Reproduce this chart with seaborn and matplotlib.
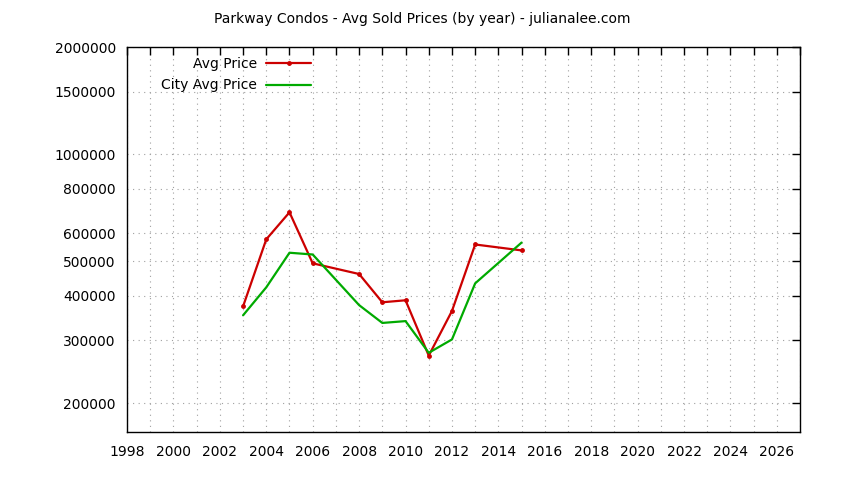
import numpy as np
import pandas as pd
import matplotlib.pyplot as plt
import matplotlib.ticker as mticker
import seaborn as sns

# values
years = [2003, 2004, 2005, 2006, 2008, 2009, 2010, 2011, 2012, 2013, 2015]
avg_price = [374000, 577000, 687000, 494000, 461000, 384000, 389000, 272000, 363000, 558000, 537000]
city_avg_price = [353000, 423000, 529000, 523000, 377000, 336000, 340000, 277000, 302000, 434000, 565000]

y_ticks = [200000, 300000, 400000, 500000, 600000, 800000, 1000000, 1500000, 2000000]
x_ticks = list(range(1998, 2028))
x_labels = [str(y) if y % 2 == 0 else "" for y in x_ticks]

df = pd.DataFrame({
    "year": years * 2,
    "price": avg_price + city_avg_price,
    "series": ["Avg Price"] * len(years) + ["City Avg Price"] * len(years),
})

sns.set_style("white")
plt.rcParams["font.family"] = ["DejaVu Sans"]
plt.rcParams["font.size"] = 10
plt.rcParams["text.color"] = "black"

fig = plt.figure(figsize=(8.44, 4.8), dpi=100)
ax = fig.add_axes([0.1505, 0.1, 0.7975, 0.802])

sns.lineplot(data=df[df.series == "Avg Price"], x="year", y="price", ax=ax,
             color="#cc0000", lw=1.6, marker="o", markersize=3.5,
             markeredgewidth=0, label="Avg Price")
sns.lineplot(data=df[df.series == "City Avg Price"], x="year", y="price", ax=ax,
             color="#00aa00", lw=1.6, label="City Avg Price")

ax.set_yscale("log")
ax.set_ylim(166000, 2000000)
ax.set_xlim(1998, 2027)
ax.yaxis.set_major_locator(mticker.FixedLocator(y_ticks))
ax.yaxis.set_minor_locator(mticker.NullLocator())
ax.yaxis.set_major_formatter(mticker.FuncFormatter(lambda v, p: f"{int(round(v))}"))
ax.set_xticks(x_ticks)
ax.set_xticklabels(x_labels)
ax.set_xlabel("")
ax.set_ylabel("")

ax.grid(True, which="major", color="#a0a0a0", linestyle=(0, (1, 4)), linewidth=0.8)
ax.tick_params(direction="in", length=6, width=1, top=True, right=True,
               labelsize=10, colors="black", labelcolor="black", pad=8)
ax.tick_params(axis="x", pad=9)
for s in ax.spines.values():
    s.set_color("black")
    s.set_linewidth(1)
    s.set_visible(True)

# gnuplot style key: label right-aligned, sample after it
leg = ax.legend(loc="upper right", bbox_to_anchor=(0.2875, 1.0), frameon=False,
                markerfirst=False, handlelength=3.2, handletextpad=0.7,
                labelspacing=0.55, fontsize=10, borderaxespad=0.3)
for t in leg.get_texts():
    t.set_color("black")

fig.suptitle("Parkway Condos - Avg Sold Prices (by year) - julianalee.com",
             fontsize=10, y=0.975, color="black")

fig.savefig("out.png", dpi=100)
